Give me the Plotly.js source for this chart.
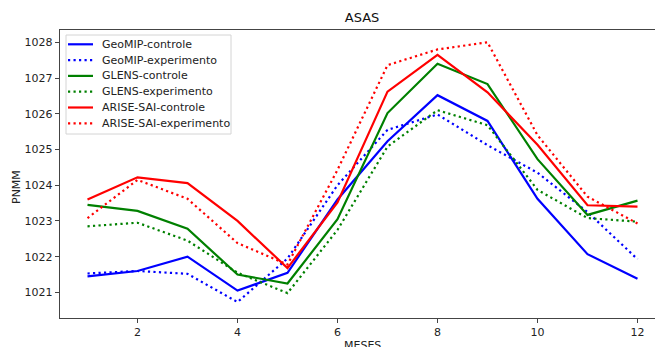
<!DOCTYPE html>
<html>
<head>
<meta charset="utf-8">
<script src="https://cdn.plot.ly/plotly-3.0.1.min.js"></script>
<style>html,body{margin:0;padding:0;background:#fff;}#chart{width:655px;height:347px;}</style>
</head>
<body>
<div id="chart"></div>
<script>
const months = [1,2,3,4,5,6,7,8,9,10,11,12];
const geomipControle     = [1021.45, 1021.60, 1022.00, 1021.05, 1021.55, 1023.60, 1025.23, 1026.52, 1025.80, 1023.62, 1022.07, 1021.38];
const geomipExperimento  = [1021.53, 1021.60, 1021.52, 1020.73, 1021.95, 1024.00, 1025.55, 1025.98, 1025.12, 1024.35, 1023.25, 1021.93];
const glensControle      = [1023.45, 1023.28, 1022.78, 1021.50, 1021.25, 1023.05, 1026.02, 1027.40, 1026.83, 1024.73, 1023.17, 1023.57];
const glensExperimento   = [1022.85, 1022.95, 1022.45, 1021.55, 1020.98, 1022.75, 1025.08, 1026.10, 1025.68, 1023.87, 1023.08, 1022.98];
const ariseControle      = [1023.60, 1024.22, 1024.06, 1023.00, 1021.68, 1023.52, 1026.62, 1027.65, 1026.60, 1025.13, 1023.44, 1023.40];
const ariseExperimento   = [1023.08, 1024.15, 1023.62, 1022.38, 1021.78, 1024.43, 1027.36, 1027.80, 1028.00, 1025.40, 1023.68, 1022.93];
const seriesNames = ['GeoMIP-controle','GeoMIP-experimento','GLENS-controle','GLENS-experimento','ARISE-SAI-controle','ARISE-SAI-experimento'];
const xTicks = [2,4,6,8,10,12];
const yTicks = [1021,1022,1023,1024,1025,1026,1027,1028];

const font = 'DejaVu Sans, sans-serif';
const seriesValues = [geomipControle, geomipExperimento, glensControle, glensExperimento, ariseControle, ariseExperimento];
const seriesColors = ['#0000ff','#0000ff','#008000','#008000','#ff0000','#ff0000'];
const seriesDotted = [false,true,false,true,false,true];
const dashOf = d => d ? '2.2px,3.3px' : 'solid';

const data = seriesNames.map((name, i) => ({
  x: months, y: seriesValues[i], name: name, type:'scatter', mode:'lines',
  line:{color:seriesColors[i], width:2.2, dash:dashOf(seriesDotted[i])}
}));

// plot area in pixels: x 60..655, y 30..318
const px = p => (p - 60) / 595;
const py = p => (318 - p) / 288;

const shapes = [{type:'rect', xref:'paper', yref:'paper', x0:px(66), x1:px(231), y0:py(134), y1:py(35),
  line:{color:'#d4d4d4', width:1}, fillcolor:'rgba(255,255,255,0.85)', layer:'above'}];
const annotations = [
  {text:'PNMM', xref:'paper', yref:'paper', x:px(16), y:py(187), textangle:-90, showarrow:false,
   xanchor:'center', yanchor:'middle', font:{family:font, size:11, color:'#222'}},
  {text:'MESES', xref:'paper', yref:'paper', x:px(362), y:py(345), showarrow:false,
   xanchor:'center', yanchor:'middle', font:{family:font, size:11, color:'#222'}}
];
seriesNames.forEach((name, i) => {
  const rowY = 44.3 + i * 15.8;
  shapes.push({type:'line', xref:'paper', yref:'paper', x0:px(68), x1:px(93), y0:py(rowY), y1:py(rowY),
    line:{color:seriesColors[i], width:2.2, dash:dashOf(seriesDotted[i])}, layer:'above'});
  annotations.push({text:name, xref:'paper', yref:'paper', x:px(100), y:py(rowY), xanchor:'left', yanchor:'middle',
    showarrow:false, font:{family:font, size:11, color:'#222'}});
});

const layout = {
  width:655, height:347,
  margin:{l:60, r:0, t:30, b:29, pad:0},
  paper_bgcolor:'#fff', plot_bgcolor:'#fff',
  font:{family:font, size:11, color:'#222'},
  title:{text:'ASAS', font:{family:font, size:13, color:'#111'}, xref:'paper', x:0.5076, xanchor:'center', yref:'container', y:0.951, yanchor:'middle'},
  showlegend:false,
  xaxis:{range:[0.45, 12.35], tickvals:xTicks, ticktext:xTicks.map(String), showgrid:false, zeroline:false,
    showline:true, linecolor:'#444', linewidth:1.2, mirror:true, ticks:'outside', ticklen:4, tickcolor:'#444',
    tickfont:{family:font, size:11, color:'#222'}},
  yaxis:{range:[1020.284, 1028.344], tickvals:yTicks, ticktext:yTicks.map(String), showgrid:false, zeroline:false,
    showline:true, linecolor:'#444', linewidth:1.2, ticks:'outside', ticklen:4, tickcolor:'#444',
    tickfont:{family:font, size:11, color:'#222'}},
  shapes: shapes,
  annotations: annotations
};
Plotly.newPlot('chart', data, layout, {displayModeBar:false, staticPlot:true});
</script>
</body>
</html>
